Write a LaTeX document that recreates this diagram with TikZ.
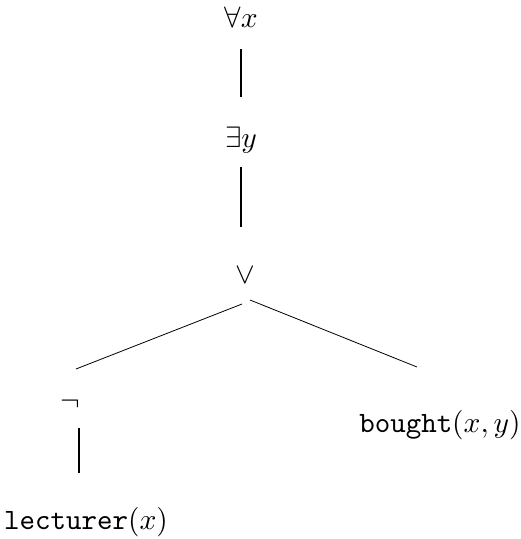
\documentclass[tikz,border=0pt]{standalone}
\begin{document}
\begin{tikzpicture}[x=1pt,y=-1pt,
  lab/.style={inner sep=0pt, outer sep=0pt, anchor=base, scale=2.95, transform shape},
  vedge/.style={line width=1.5pt},
  dedge/.style={line width=0.8pt}]
\useasboundingbox (0,0) rectangle (521,539);
\node[lab] (fa) at (241,27) {$\forall x$};
\node[lab] (ey) at (241,147) {$\exists y$};
\node[lab] (or) at (245,283) {$\vee$};
\node[lab] (neg) at (70,410) {$\neg$};
\node[lab] (bt) at (440,432) {\texttt{bought}$(x,y)$};
\node[lab] (lc) at (86,529) {\texttt{lecturer}$(x)$};
\draw[vedge] ([shift={(0,22)}]fa.base) -- ([shift={(0,-50)}]ey.base);
\draw[vedge] ([shift={(0,20)}]ey.base) -- ([shift={(-4,-56)}]or.base);
\draw[dedge] ([shift={(-3,21)}]or.base) -- ([shift={(6,-41)}]neg.base);
\draw[dedge] ([shift={(5,17)}]or.base) -- ([shift={(-23,-65)}]bt.base);
\draw[vedge] ([shift={(9,18)}]neg.base) -- ([shift={(-7,-56)}]lc.base);
\end{tikzpicture}
\end{document}
